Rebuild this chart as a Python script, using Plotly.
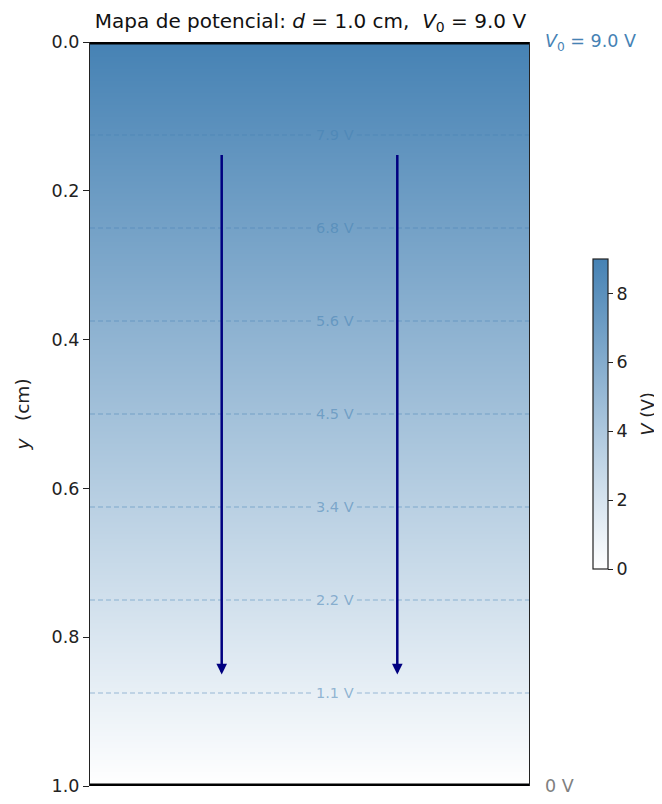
import plotly.graph_objects as go

# ---- data ----
V0 = 9.0          # volts (top plate)
d = 1.0           # cm
plate_y = [0.0, 1.0]          # plate positions (cm)
plate_V = [9.0, 0.0]          # potentials at plates
x_edges = [0.0, 1.0]
contour_y = [0.125, 0.25, 0.375, 0.5, 0.625, 0.75, 0.875]
contour_labels = ["7.9 V", "6.8 V", "5.6 V", "4.5 V", "3.4 V", "2.2 V", "1.1 V"]
arrow_x = [0.3, 0.7]
arrow_y_start = 0.15
arrow_y_end = 0.85
y_ticks = [0.0, 0.2, 0.4, 0.6, 0.8, 1.0]
cbar_ticks = [0, 2, 4, 6, 8]

FONT = "DejaVu Sans"
STEEL = "#4682b4"
FS = 17.5
NB = "\u00a0"

fig = go.Figure()

# potential field (linear interpolation between the plates)
fig.add_trace(go.Heatmap(
    x=x_edges, y=plate_y,
    z=[[plate_V[0], plate_V[0]], [plate_V[1], plate_V[1]]],
    zsmooth="best", zmin=0, zmax=V0,
    colorscale=[[0, "#ffffff"], [1, STEEL]],
    colorbar=dict(
        x=1.1458, xanchor="left", y=0.5, yanchor="middle",
        len=0.4167, lenmode="fraction", thickness=15, xpad=0, ypad=0,
        outlinewidth=1.2, outlinecolor="#222",
        tickvals=cbar_ticks, ticks="outside", ticklen=5, tickcolor="#222",
        tickfont=dict(family=FONT, size=FS, color="#222"),
    ),
    hoverinfo="skip",
))

# colorbar label
fig.add_annotation(x=1.272, y=0.5, xref="paper", yref="paper", textangle=-90,
                   xanchor="center", yanchor="middle",
                   text="<i>V</i>" + NB + "(V)", showarrow=False,
                   font=dict(family=FONT, size=17.5, color="#222"))

# dashed equipotential lines, broken around labels
gap_l, gap_r, lab_x = 0.508, 0.608, 0.558
for yy, lab in zip(contour_y, contour_labels):
    for seg in ([x_edges[0], gap_l], [gap_r, x_edges[1]]):
        fig.add_trace(go.Scatter(
            x=seg, y=[yy, yy], mode="lines",
            line=dict(color="rgba(70,130,180,0.5)", width=1.2, dash="5px,3px"),
            hoverinfo="skip", showlegend=False))
    fig.add_annotation(x=lab_x, y=yy, text=lab, showarrow=False,
                       font=dict(family=FONT, size=14.5, color="rgba(70,130,180,0.55)"))

# plates
for py in plate_y:
    fig.add_trace(go.Scatter(
        x=x_edges, y=[py, py], mode="lines",
        line=dict(color="black", width=5), cliponaxis=False,
        hoverinfo="skip", showlegend=False))

# field arrows
for ax_ in arrow_x:
    fig.add_annotation(x=ax_, y=arrow_y_end, ax=ax_, ay=arrow_y_start,
                       xref="x", yref="y", axref="x", ayref="y",
                       showarrow=True, arrowhead=2, arrowsize=0.85,
                       arrowwidth=2.5, arrowcolor="#000080", text="")

# plate labels
fig.add_annotation(x=1.0, y=0.0, xref="paper", yref="y", xanchor="left",
                   xshift=14, text="<i>V</i><sub>0</sub>" + NB + "=" + NB + "9.0 V",
                   showarrow=False, font=dict(family=FONT, size=17.5, color=STEEL))
fig.add_annotation(x=1.0, y=1.0, xref="paper", yref="y", xanchor="left",
                   xshift=14, text="0 V", showarrow=False,
                   font=dict(family=FONT, size=17.5, color="gray"))

title_txt = ("Mapa de potencial: <i>d</i>" + NB + "=" + NB + "1.0 cm," + NB + NB
             + "<i>V</i><sub>0</sub>" + NB + "=" + NB + "9.0 V")

fig.update_layout(
    width=655, height=797,
    margin=dict(l=82, r=134, t=34, b=19, autoexpand=False),
    paper_bgcolor="white", plot_bgcolor="white",
    font=dict(family=FONT, color="#222"),
    title=dict(text=title_txt,
               x=0.4618, xanchor="center", y=0.984, yanchor="middle",
               font=dict(family=FONT, size=20, color="#111")),
    xaxis=dict(range=x_edges, showticklabels=False, ticks="", showgrid=False,
               zeroline=False, showline=False),
    yaxis=dict(range=[1.0, 0.0], tickvals=y_ticks, ticktext=[f"{t:.1f}" for t in y_ticks],
               ticks="outside", ticklen=6, tickcolor="#222", showgrid=False,
               zeroline=False, showline=True, linecolor="#222", linewidth=1.2, mirror=True,
               tickfont=dict(family=FONT, size=FS, color="#222"),
               title=dict(text="<i>y</i>" + NB + NB + NB + "(cm)",
                          font=dict(family=FONT, size=18.5, color="#222"),
                          standoff=17)),
    showlegend=False,
)

fig.write_html("out.html")
